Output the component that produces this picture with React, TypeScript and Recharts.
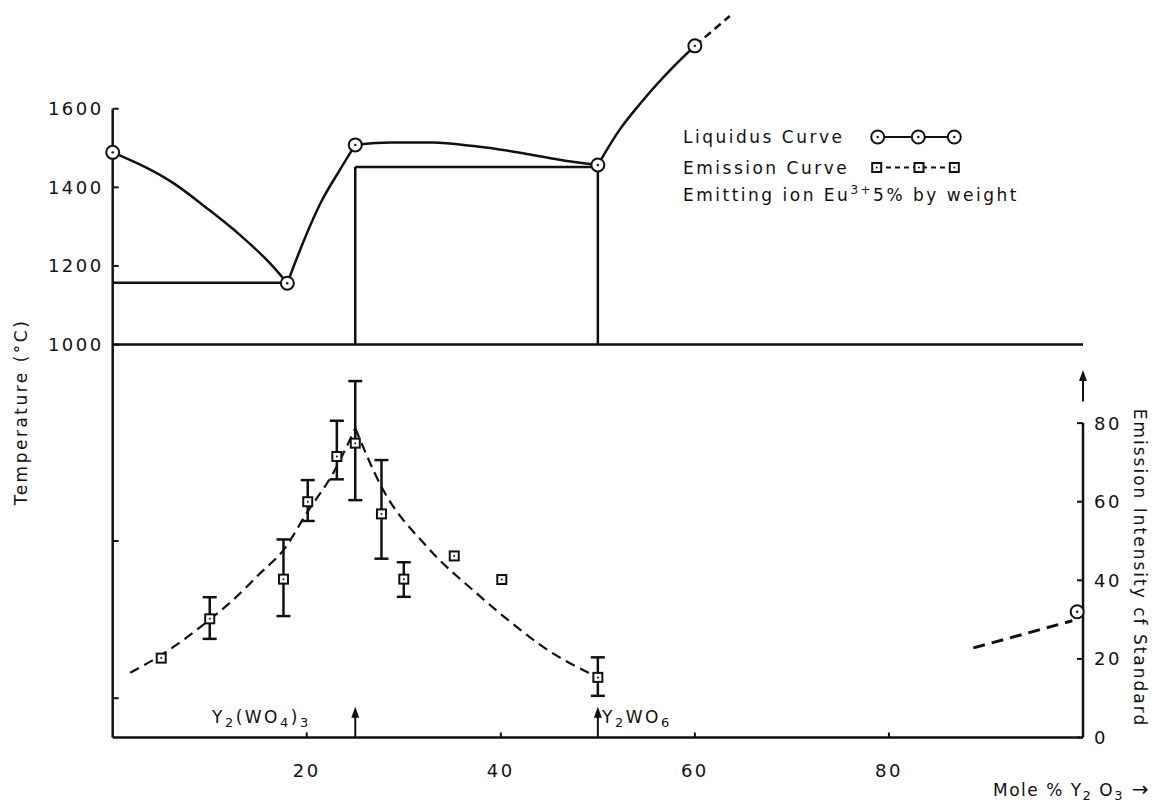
import { ComposedChart, Line, Scatter, XAxis, YAxis, ReferenceLine, ErrorBar } from 'recharts';

const FONT = '"DejaVu Sans", sans-serif';
const INK = '#111';

// liquidus: x = mole % Y2O3, t = temperature (°C)
const liquidusMarks = [
  { x: 0, t: 1489 },
  { x: 18, t: 1156 },
  { x: 25, t: 1508 },
  { x: 50, t: 1457 },
  { x: 60, t: 1760 },
];
const liquidusA = [
  { x: 0, t: 1489 }, { x: 6.3, t: 1410 }, { x: 9.7, t: 1347 },
  { x: 13.1, t: 1279 }, { x: 16.2, t: 1207 }, { x: 18, t: 1156 },
];
const liquidusB = [
  { x: 18, t: 1156 }, { x: 19.3, t: 1240 }, { x: 21.4, t: 1359 }, { x: 23.4, t: 1444 }, { x: 25, t: 1508 },
];
const liquidusC = [
  { x: 25, t: 1508 }, { x: 28.6, t: 1514 }, { x: 33, t: 1514 }, { x: 37.2, t: 1505 },
  { x: 42.3, t: 1487 }, { x: 46.8, t: 1467 }, { x: 50, t: 1457 },
];
const liquidusD = [
  { x: 50, t: 1457 }, { x: 52.2, t: 1545 }, { x: 54.4, t: 1614 }, { x: 57.8, t: 1707 }, { x: 60, t: 1760 },
];
const liquidusDashed = [{ x: 60, t: 1760 }, { x: 63.6, t: 1836 }];

// solidus / isotherm lines
const eutectic = [{ x: 0, t: 1157 }, { x: 18, t: 1157 }];
const peritectic = [{ x: 25, t: 1452 }, { x: 50, t: 1452 }];
const wall25 = [{ x: 25, t: 1000 }, { x: 25, t: 1452 }];
const wall50 = [{ x: 50, t: 1000 }, { x: 50, t: 1452 }];
const isotherm1000 = [{ x: 0, t: 1000 }, { x: 100, t: 1000 }];

// emission intensity (right axis)
const emissionX = [5, 10, 17.6, 20.1, 23.1, 25, 27.7, 30, 35.2, 40.1, 50];
const emissionY = [20.2, 30.2, 40.3, 60, 71.5, 74.9, 56.9, 40.3, 46.2, 40.2, 15.3];
const emissionLow = [null, 25.1, 30.9, 55.1, 65.7, 60.4, 45.5, 35.8, null, null, 10.6];
const emissionHigh = [null, 35.7, 50.4, 65.5, 80.6, 90.7, 70.6, 44.6, null, null, 20.4];

const fitRising = [
  { x: 1.8, e: 16.5 }, { x: 5, e: 21 }, { x: 10, e: 30 }, { x: 12.4, e: 35 }, { x: 15.2, e: 41.8 },
  { x: 17.6, e: 47.7 }, { x: 20.1, e: 57.5 }, { x: 22.7, e: 67.2 }, { x: 25, e: 78.7 },
];
const fitFalling = [
  { x: 25, e: 78.7 }, { x: 27.7, e: 63.8 }, { x: 32.4, e: 48.5 }, { x: 37.5, e: 36.7 },
  { x: 41.6, e: 28.2 }, { x: 44.1, e: 23.5 }, { x: 50, e: 15.3 },
];
const farDashed = [{ x: 88.7, e: 22.8 }, { x: 98.9, e: 29.7 }];
const farMark = [{ x: 99.4, e: 32 }];

const tempTicks = [100, 500, 1000, 1200, 1400, 1600];
const emissionTicks = [0, 20, 40, 60, 80];
const moleTicks = [20, 40, 60, 80];
const compounds = [25, 50];

const withBars = emissionX
  .map((x, i) => ({ x, e: emissionY[i], lo: emissionLow[i], hi: emissionHigh[i] }))
  .filter((d) => d.lo != null)
  .map((d) => ({ x: d.x, e: d.e, err: [d.e - (d.lo as number), (d.hi as number) - d.e] }));
const withoutBars = emissionX
  .map((x, i) => ({ x, e: emissionY[i], lo: emissionLow[i] }))
  .filter((d) => d.lo == null);

const RingDot = (p: any) => (
  <g>
    <circle cx={p.cx} cy={p.cy} r={6.5} fill="#fff" stroke={INK} strokeWidth={2} />
    <circle cx={p.cx} cy={p.cy} r={1.2} fill={INK} />
  </g>
);

const BoxDot = (p: any) => (
  <g>
    <rect x={p.cx - 4.5} y={p.cy - 4.5} width={9} height={9} fill="#fff" stroke={INK} strokeWidth={2} />
    <circle cx={p.cx} cy={p.cy} r={1} fill={INK} />
  </g>
);

const UpArrow = (p: any) => {
  const x = p.x1;
  const top = Math.min(p.y1, p.y2);
  const bot = Math.max(p.y1, p.y2);
  return (
    <g>
      <line x1={x} x2={x} y1={bot} y2={top + 6} stroke={INK} strokeWidth={2} />
      <path d={`M${x},${top} L${x - 4},${top + 11} L${x + 4},${top + 11} Z`} fill={INK} />
    </g>
  );
};

const textStyle = { fontFamily: FONT, fontSize: 18, letterSpacing: 2.5, fill: INK };

const LeftTick = ({ x, y, payload }: any) => (
  <g>
    <line x1={x} x2={x + 6} y1={y} y2={y} stroke={INK} strokeWidth={2} />
    {payload.value >= 1000 && (
      <text x={x - 9} y={y} textAnchor="end" dominantBaseline="central" style={textStyle}>
        {payload.value}
      </text>
    )}
  </g>
);

const RightTick = ({ x, y, payload }: any) => (
  <g>
    <line x1={x - 6} x2={x} y1={y} y2={y} stroke={INK} strokeWidth={2} />
    <text x={x + 11} y={y} textAnchor="start" dominantBaseline="central" style={textStyle}>
      {payload.value}
    </text>
  </g>
);

const BottomTick = ({ x, y, payload }: any) => (
  <g>
    <line x1={x} x2={x} y1={y} y2={y - 5} stroke={INK} strokeWidth={2} />
    <text x={x} y={y + 33} textAnchor="middle" dominantBaseline="central" style={textStyle}>
      {payload.value}
    </text>
  </g>
);

const line = { stroke: INK, strokeWidth: 2.5, dot: false, isAnimationActive: false, xAxisId: 0 } as const;

export default function App() {
  const sub = { fontSize: 13 };
  const label = { fontFamily: FONT, fontSize: 17, letterSpacing: 2.5, fill: INK };
  return (
    <div style={{ position: 'relative', width: 1149, height: 800 }}>
      <ComposedChart width={1149} height={800} margin={{ top: 2.5, right: 24, bottom: 30.5, left: 44.7 }}>
        <XAxis
          type="number"
          dataKey="x"
          domain={[0, 100]}
          ticks={moleTicks}
          height={40}
          tickSize={0}
          tickMargin={0}
          tickLine={false}
          axisLine={{ stroke: INK, strokeWidth: 2.5 }}
          tick={<BottomTick />}
        />
        <YAxis
          yAxisId="T"
          dataKey="t"
          type="number"
          domain={[0, 1850]}
          ticks={tempTicks}
          width={60}
          tickSize={0}
          tickMargin={0}
          tickLine={false}
          axisLine={false}
          tick={<LeftTick />}
        />
        <YAxis
          yAxisId="E"
          dataKey="e"
          type="number"
          orientation="right"
          domain={[0, 185]}
          ticks={emissionTicks}
          width={50}
          tickSize={0}
          tickMargin={0}
          tickLine={false}
          axisLine={false}
          tick={<RightTick />}
        />

        <ReferenceLine yAxisId="T" segment={[{ x: 0, y: 0 }, { x: 0, y: 1600 }]} stroke={INK} strokeWidth={2.5} />
        <ReferenceLine yAxisId="E" segment={[{ x: 100, y: 0 }, { x: 100, y: 80 }]} stroke={INK} strokeWidth={2.5} />
        <ReferenceLine yAxisId="E" segment={[{ x: 100, y: 85.5 }, { x: 100, y: 93.5 }]} shape={UpArrow} />
        {compounds.map((c) => (
          <ReferenceLine key={c} yAxisId="E" segment={[{ x: c, y: 0 }, { x: c, y: 7.8 }]} shape={UpArrow} />
        ))}

        <Line {...line} yAxisId="T" data={isotherm1000} dataKey="t" type="linear" name="iso" />
        <Line {...line} yAxisId="T" data={eutectic} dataKey="t" type="linear" name="eut" />
        <Line {...line} yAxisId="T" data={peritectic} dataKey="t" type="linear" name="per" />
        <Line {...line} yAxisId="T" data={wall25} dataKey="t" type="linear" name="w25" />
        <Line {...line} yAxisId="T" data={wall50} dataKey="t" type="linear" name="w50" />

        <Line {...line} yAxisId="T" data={liquidusA} dataKey="t" type="monotone" name="la" />
        <Line {...line} yAxisId="T" data={liquidusB} dataKey="t" type="monotone" name="lb" />
        <Line {...line} yAxisId="T" data={liquidusC} dataKey="t" type="monotone" name="lc" />
        <Line {...line} yAxisId="T" data={liquidusD} dataKey="t" type="monotone" name="ld" />
        <Line {...line} yAxisId="T" data={liquidusDashed} dataKey="t" type="linear" strokeDasharray="8 5" name="le" />

        <Line {...line} yAxisId="E" data={fitRising} dataKey="e" type="monotone" strokeWidth={2.2} strokeDasharray="10 6" name="fr" />
        <Line {...line} yAxisId="E" data={fitFalling} dataKey="e" type="monotone" strokeWidth={2.2} strokeDasharray="10 6" name="ff" />
        <Line {...line} yAxisId="E" data={farDashed} dataKey="e" type="linear" strokeWidth={3} strokeDasharray="12 7" name="fd" />

        <Scatter yAxisId="T" data={liquidusMarks} dataKey="t" shape={RingDot} isAnimationActive={false} name="Liquidus Curve" />
        <Scatter yAxisId="E" data={farMark} dataKey="e" shape={RingDot} isAnimationActive={false} name="far" />
        <Scatter yAxisId="E" data={withBars} dataKey="e" shape={BoxDot} isAnimationActive={false} name="Emission Curve">
          <ErrorBar dataKey="err" direction="y" width={7} stroke={INK} strokeWidth={2.5} isAnimationActive={false} />
        </Scatter>
        <Scatter yAxisId="E" data={withoutBars} dataKey="e" shape={BoxDot} isAnimationActive={false} name="em2" />
      </ComposedChart>

      <svg width={1149} height={800} style={{ position: 'absolute', left: 0, top: 0, pointerEvents: 'none' }}>
        {/* legend */}
        <text x={675} y={135} style={label}>Liquidus Curve</text>
        <line x1={870} x2={946} y1={129} y2={129} stroke={INK} strokeWidth={2} />
        {[869.7, 910.3, 946.3].map((cx) => <RingDot key={cx} cx={cx} cy={129} />)}
        <text x={675} y={166} style={label}>Emission Curve</text>
        <line x1={869} x2={946} y1={159.5} y2={159.5} stroke={INK} strokeWidth={1.8} strokeDasharray="5 4" />
        {[868.7, 911, 946.3].map((cx) => <BoxDot key={cx} cx={cx} cy={159.5} />)}
        <text x={675} y={193} style={label}>
          Emitting ion Eu<tspan dy={-7} fontSize={12}>3+</tspan>
          <tspan dy={7}>5% by weight</tspan>
        </text>

        {/* compound labels */}
        <text x={204} y={715} style={label}>
          Y<tspan dy={4} style={sub}>2</tspan><tspan dy={-4}>(WO</tspan><tspan dy={4} style={sub}>4</tspan>
          <tspan dy={-4}>)</tspan><tspan dy={4} style={sub}>3</tspan>
        </text>
        <text x={594} y={715} style={label}>
          Y<tspan dy={4} style={sub}>2</tspan><tspan dy={-4}>WO</tspan><tspan dy={4} style={sub}>6</tspan>
        </text>

        {/* axis titles */}
        <text x={13} y={404} transform="rotate(-90 13 404)" textAnchor="middle" dominantBaseline="central" style={label}>
          Temperature (°C)
        </text>
        <text x={1132} y={560} transform="rotate(90 1132 560)" textAnchor="middle" dominantBaseline="central" style={{ ...label, letterSpacing: 2 }}>
          Emission Intensity cf Standard
        </text>
        <text x={985} y={788} style={{ ...label, letterSpacing: 1.5 }}>
          Mole % Y<tspan dy={4} style={sub}>2</tspan><tspan dy={-4}> O</tspan><tspan dy={4} style={sub}>3</tspan>
          <tspan dy={-4} fontSize={20}> →</tspan>
        </text>
      </svg>
    </div>
  );
}
